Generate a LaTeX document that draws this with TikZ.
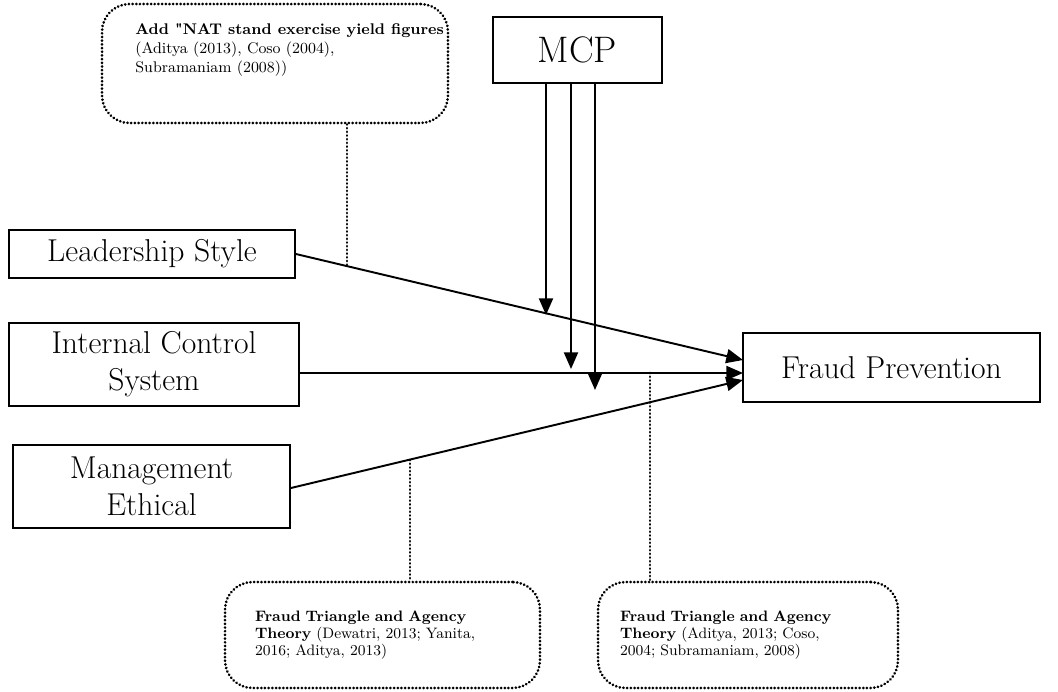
\documentclass[tikz,border=0pt]{standalone}
\usepackage{fontspec}
\usepackage{amsmath}
\usepackage{tikz}
\usetikzlibrary{shapes,arrows,arrows.meta,backgrounds,positioning}
\tikzset{
  varbox/.style = {draw=black, line width=1.1pt, align=center, inner sep=0pt,
    font=\fontsize{18}{21}\selectfont},% kotak variabel
  notebox/.style = {draw=black, line width=1.6pt, line cap=round,
    dash pattern=on 0.1pt off 2pt, rounded corners=0.55cm, align=left,
    inner ysep=0pt, font=\fontsize{8.6}{9.7}\selectfont},% kotak teori
  dotline/.style = {line width=1.6pt, line cap=round, dash pattern=on 0.1pt off 2pt},
  arr/.style = {line width=1.1pt, -{Triangle[length=9.5pt,width=8pt]}}
}
\begin{document}
\begin{tikzpicture}[x=0.02cm,y=-0.02cm]
        \useasboundingbox (0,0) rectangle (1058,691);
        % variabel
        \node [varbox, minimum width=5.72cm, minimum height=0.96cm] (ls) at (152,254) {Leadership Style};
        \node [varbox, minimum width=5.8cm, minimum height=1.66cm] (ics) at (154,364.5) {Internal Control\\System};
        \node [varbox, minimum width=5.54cm, minimum height=1.66cm] (me) at (151.5,486.5) {Management\\Ethical};
        \node [varbox, minimum width=3.38cm, minimum height=1.32cm, font=\fontsize{21}{24}\selectfont] (mcp) at (577.5,50) {MCP};
        \node [varbox, minimum width=5.94cm, minimum height=1.38cm] (fp) at (891.5,367.5) {Fraud Prevention};
        % teori
        \node [notebox, minimum width=6.92cm, minimum height=2.38cm] (nat) at (275,63.5) {};
        \node [align=left, inner sep=0pt, anchor=north west, font=\fontsize{8.8}{10.8}\selectfont] (nattext) at (135,23)
            {\textbf{Add \textquotedbl NAT stand exercise yield figures}\\(Aditya (2013), Coso (2004),\\Subramaniam (2008))};
        \node [notebox, text width=5.1cm, inner xsep=0.6cm, minimum height=2.12cm] (ftl) at (382.5,635)
            {\textbf{Fraud Triangle and Agency}\\\textbf{Theory} (Dewatri, 2013; Yanita,\\2016; Aditya, 2013)};
        \node [notebox, text width=5.12cm, inner xsep=0.44cm, minimum height=2.12cm] (ftr) at (748,635)
            {\textbf{Fraud Triangle and Agency}\\\textbf{Theory} (Aditya, 2013; Coso,\\2004; Subramaniam, 2008)};
        % ujung panah
        \coordinate (fpa) at (743,360);
        \coordinate (fpb) at (743,373);
        \coordinate (fpc) at (743,380);
        \coordinate (m1) at (546,315);
        \coordinate (m2) at (571,369);
        \coordinate (m3) at (595,390);
        \coordinate (d1) at (347,265);
        \coordinate (d2) at (410,460);
        \coordinate (d3) at (650,373);
        \draw [arr] (ls.east) -- (fpa);
        \draw [arr] (ics.east |- fpb) -- (fpb);
        \draw [arr] ([yshift=-0.03cm]me.east) -- (fpc);
        \draw [arr] (mcp.south -| m1) -- (m1);
        \draw [arr] (mcp.south -| m2) -- (m2);
        \draw [arr] (mcp.south -| m3) -- (m3);
        \draw [dotline] (nat.south -| d1) -- (d1);
        \draw [dotline] (d2) -- (d2 |- ftl.north);
        \draw [dotline] (d3) -- (d3 |- ftr.north);
\end{tikzpicture}
\end{document}
